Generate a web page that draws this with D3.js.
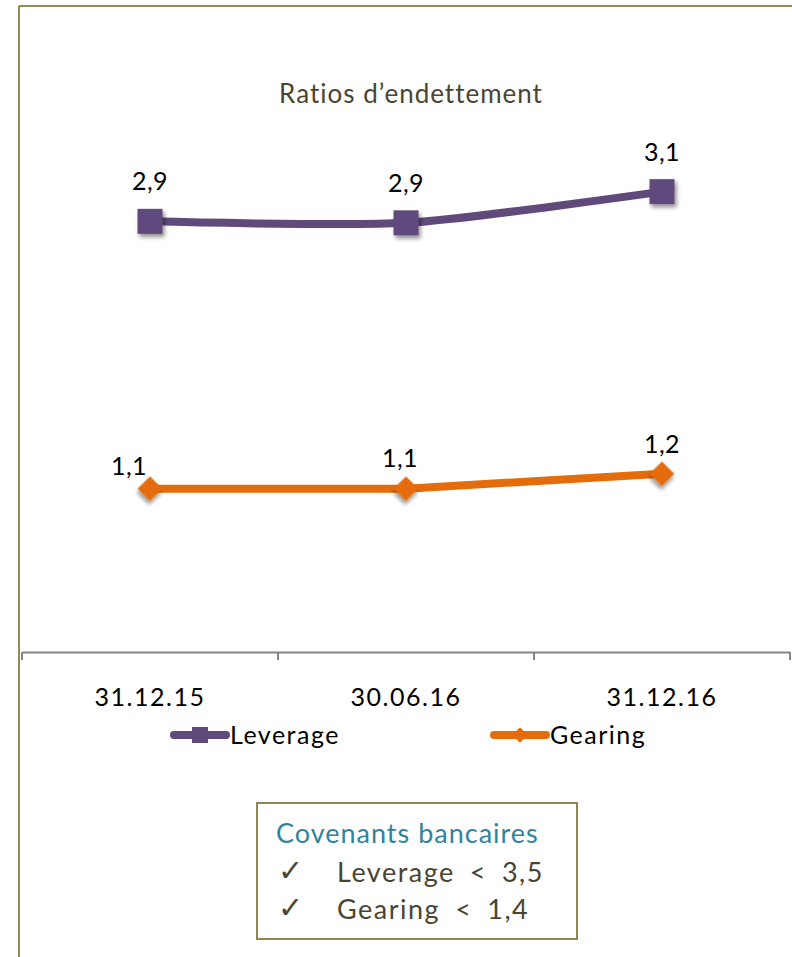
<!DOCTYPE html>
<html>
<head>
<meta charset="utf-8">
<script src="https://cdn.jsdelivr.net/npm/d3@7"></script>
<style>
  body { margin: 0; background: #fff; }
  svg { display: block; font-family: "Lato", "DejaVu Sans", sans-serif; font-variant-ligatures: none; }
</style>
</head>
<body>
<svg id="chart" width="792" height="957"></svg>
<script>
// chart values
const categories = ["31.12.15", "30.06.16", "31.12.16"];
const leverage = [2.9, 2.89, 3.1];
const gearing = [1.1, 1.1, 1.2];
const seriesNames = ["Leverage", "Gearing"];
const covenantTitle = "Covenants bancaires";
const covenants = ["Leverage\u2002<\u20023,5", "Gearing\u2002<\u20021,4"];

const svg = d3.select("#chart");
const purple = "#604a7b", orange = "#e46c0a", olive = "#948a54";

// drop shadow for markers
const defs = svg.append("defs");
const f = defs.append("filter").attr("id", "shadow")
  .attr("x", "-50%").attr("y", "-50%").attr("width", "200%").attr("height", "200%");
f.append("feDropShadow").attr("dx", 2).attr("dy", 3).attr("stdDeviation", 2)
  .attr("flood-color", "#000").attr("flood-opacity", 0.45);

// frame
svg.append("line").attr("x1", 19).attr("x2", 792).attr("y1", 6).attr("y2", 6)
  .attr("stroke", olive).attr("stroke-width", 2);
svg.append("line").attr("x1", 19).attr("x2", 19).attr("y1", 6).attr("y2", 957)
  .attr("stroke", olive).attr("stroke-width", 2);

// title
svg.append("text").attr("x", 411).attr("y", 103).attr("text-anchor", "middle")
  .attr("font-size", 26).attr("letter-spacing", 1).attr("fill", "#4a4532").text("Ratios d\u2019endettement");

const x = d3.scaleBand().domain(categories).range([22, 790]);
const y = d3.scaleLinear().domain([0, 4]).range([652, 58]);
const cx = d => x(d) + x.bandwidth() / 2;

// x axis
const xAxis = svg.append("g").attr("transform", "translate(0,652)")
  .call(d3.axisBottom(x).tickSize(0).tickPadding(36));
xAxis.select(".domain").attr("stroke", "#868686").attr("stroke-width", 2);
xAxis.selectAll("text").attr("font-size", 25).attr("letter-spacing", 1.5).attr("fill", "#000")
  .attr("font-family", "Lato, sans-serif");
const tickPos = categories.map(d => x(d)).concat([x.range()[1]]);
xAxis.selectAll(".sep").data(tickPos).enter().append("line")
  .attr("x1", d => d).attr("x2", d => d).attr("y1", 0).attr("y2", 8)
  .attr("stroke", "#868686").attr("stroke-width", 2);

const fmt = v => d3.format(".1f")(v).replace(".", ",");

// leverage line (smoothed)
const levLine = d3.line().x((d, i) => cx(categories[i])).y(d => y(d)).curve(d3.curveCardinal.tension(0.3));
svg.append("path").datum(leverage).attr("d", levLine)
  .attr("fill", "none").attr("stroke", purple).attr("stroke-width", 8).attr("stroke-linecap", "round");
svg.selectAll(".lev").data(leverage).enter().append("rect")
  .attr("x", (d, i) => cx(categories[i]) - 12.5).attr("y", d => y(d) - 12.5)
  .attr("width", 25).attr("height", 25).attr("fill", purple).attr("filter", "url(#shadow)");
svg.selectAll(".levLab").data(leverage).enter().append("text")
  .attr("x", (d, i) => cx(categories[i])).attr("y", d => y(d) - 31)
  .attr("text-anchor", "middle").attr("font-size", 25).attr("letter-spacing", 0.5).attr("fill", "#000").text(fmt);

// gearing line
const gLine = d3.line().x((d, i) => cx(categories[i])).y(d => y(d));
svg.append("path").datum(gearing).attr("d", gLine)
  .attr("fill", "none").attr("stroke", orange).attr("stroke-width", 8).attr("stroke-linecap", "round");
const diamond = d3.symbol().type(d3.symbolSquare).size(300);
svg.selectAll(".gea").data(gearing).enter().append("path")
  .attr("d", diamond)
  .attr("transform", (d, i) => `translate(${cx(categories[i])},${y(d)}) rotate(45)`)
  .attr("fill", orange).attr("filter", "url(#shadow)");
const gLabelShift = [[-21, -14], [-6, -22], [0, -21]];
svg.selectAll(".geaLab").data(gearing).enter().append("text")
  .attr("x", (d, i) => cx(categories[i]) + gLabelShift[i][0]).attr("y", (d, i) => y(d) + gLabelShift[i][1])
  .attr("text-anchor", "middle").attr("font-size", 25).attr("letter-spacing", 0.5).attr("fill", "#000").text(fmt);

// legend
const legend = svg.append("g").attr("transform", "translate(0,735)");
const legX = [170, 490];
seriesNames.forEach((name, i) => {
  const g = legend.append("g").attr("transform", `translate(${legX[i]},0)`);
  const col = i === 0 ? purple : orange;
  g.append("line").attr("x1", 4).attr("x2", 56).attr("y1", 0).attr("y2", 0)
    .attr("stroke", col).attr("stroke-width", 8).attr("stroke-linecap", "round");
  if (i === 0) {
    g.append("rect").attr("x", 22).attr("y", -8).attr("width", 16).attr("height", 16).attr("fill", col);
  } else {
    g.append("path").attr("d", d3.symbol().type(d3.symbolSquare).size(120))
      .attr("transform", "translate(30,0) rotate(45)").attr("fill", col);
  }
  g.append("text").attr("x", 60).attr("y", 9).attr("font-size", 25).attr("letter-spacing", 1.5)
    .attr("fill", "#000").text(name);
});

// covenants box
const box = svg.append("g").attr("transform", "translate(257,803)");
box.append("rect").attr("x", 0).attr("y", 0).attr("width", 320).attr("height", 136)
  .attr("fill", "#fff").attr("stroke", "#8e8753").attr("stroke-width", 2);
box.append("text").attr("x", 19).attr("y", 40).attr("font-size", 27).attr("letter-spacing", 1)
  .attr("fill", "#31849b").text(covenantTitle);
box.selectAll(".cov").data(covenants).enter().append("g")
  .attr("transform", (d, i) => `translate(0,${79 + i * 37})`)
  .each(function(d) {
    const g = d3.select(this);
    g.append("text").attr("x", 21).attr("y", -1).attr("font-size", 30).attr("fill", "#4a4532")
      .attr("font-family", "DejaVu Sans, sans-serif").text("\u2713");
    g.append("text").attr("x", 80).attr("y", 0).attr("font-size", 27).attr("letter-spacing", 1.5)
      .attr("fill", "#4a4532").text(d);
  });
</script>
</body>
</html>
